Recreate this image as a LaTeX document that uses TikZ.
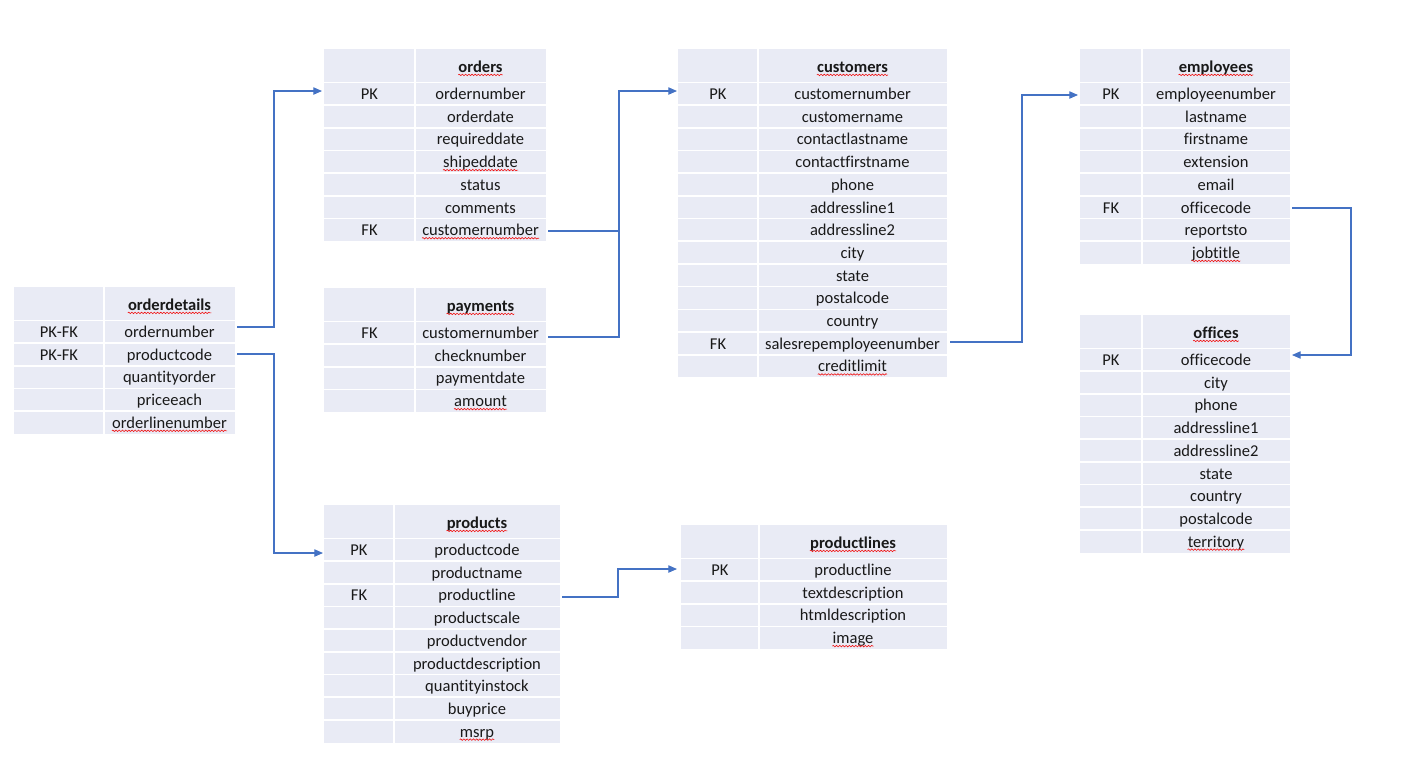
\documentclass[tikz,border=0pt]{standalone}
\usepackage{fontspec}
\setmainfont{Carlito}[Ligatures={NoCommon}]
\usetikzlibrary{decorations.pathmorphing,arrows.meta,calc}
\definecolor{cellfill}{HTML}{E9EBF5}
\definecolor{linkblue}{HTML}{4472C4}
\definecolor{squigred}{HTML}{F01010}
\tikzset{
  fld/.style={anchor=base,inner sep=0pt,font=\fontsize{12.4}{14.8}\selectfont,text=black!90},
  hdr/.style={fld,font=\fontsize{12.4}{14.8}\selectfont\bfseries},
  sepline/.style={white,line width=1.2pt},
  squig/.style={squigred,line width=0.45pt,decorate,decoration={snake,amplitude=0.55pt,segment length=2.4pt}},
  link/.style={linkblue,line width=0.8pt,-{Triangle[length=6.5pt,width=5.5pt]}},
  linkplain/.style={linkblue,line width=0.8pt}
}
% #1 name, #2 left x, #3 split x, #4 right x, #5 top y, #6 header text, #7 rows key/field/wavy
\newcommand{\erdtable}[7]{%
  \fill[cellfill] (#2,#5) rectangle (#4,#5+33.3);
  \draw[sepline] (#3,#5) -- (#3,#5+33.3);
  \node[hdr] (#1-h) at ({(#3+#4)/2},#5+23.3) {#6};
  \draw[squig] ($(#1-h.base west)+(0,2.6)$) -- ($(#1-h.base east)+(0,2.6)$);
  \foreach \k/\f/\w [count=\i] in {#7} {
    \pgfmathsetmacro{\yt}{#5+33.3+(\i-1)*22.7}
    \fill[cellfill] (#2,\yt) rectangle (#4,\yt+22.7);
    \draw[sepline] (#2,\yt) -- (#4,\yt);
    \draw[sepline] (#3,\yt) -- (#3,\yt+22.7);
    \node[fld] (#1-k\i) at ({(#2+#3)/2},\yt+17.2) {\k};
    \node[fld] (#1-f\i) at ({(#3+#4)/2},\yt+17.2) {\f};
    \ifnum\w=1
      \draw[squig] ($(#1-f\i.base west)+(0,2.5)$) -- ($(#1-f\i.base east)+(0,2.5)$);
    \fi
  }
}
\begin{document}
\begin{tikzpicture}[x=0.75pt,y=-0.75pt]
\useasboundingbox (0,0) rectangle (1413,783);

\erdtable{od}{14}{104}{235}{287}{orderdetails}{PK-FK/ordernumber/0,PK-FK/productcode/0,/quantityorder/0,/priceeach/0,/orderlinenumber/1}
\erdtable{ord}{324}{415}{546}{49}{orders}{PK/ordernumber/0,/orderdate/0,/requireddate/0,/shipeddate/1,/status/0,/comments/0,FK/customernumber/1}
\erdtable{pay}{324}{415}{546}{288}{payments}{FK/customernumber/0,/checknumber/0,/paymentdate/0,/amount/1}
\erdtable{prod}{324}{394}{560}{505}{products}{PK/productcode/0,/productname/0,FK/productline/0,/productscale/0,/productvendor/0,/productdescription/0,/quantityinstock/0,/buyprice/0,/msrp/1}
\erdtable{cust}{678}{758}{947}{49}{customers}{PK/customernumber/0,/customername/0,/contactlastname/0,/contactfirstname/0,/phone/0,/addressline1/0,/addressline2/0,/city/0,/state/0,/postalcode/0,/country/0,FK/salesrepemployeenumber/0,/creditlimit/1}
\erdtable{pl}{681}{759}{947}{525}{productlines}{PK/productline/0,/textdescription/0,/htmldescription/0,/image/1}
\erdtable{emp}{1080}{1142}{1290}{49}{employees}{PK/employeenumber/0,/lastname/0,/firstname/0,/extension/0,/email/0,FK/officecode/0,/reportsto/0,/jobtitle/1}
\erdtable{off}{1080}{1142}{1290}{315}{offices}{PK/officecode/0,/city/0,/phone/0,/addressline1/0,/addressline2/0,/state/0,/country/0,/postalcode/0,/territory/1}

% connector end points
\coordinate (odOrdOut) at (237,327);
\coordinate (ordIn) at (322,91);
\coordinate (odProdOut) at (237,354);
\coordinate (prodIn) at (323,553);
\coordinate (ordCustOut) at (548,231);
\coordinate (custIn) at (677,91);
\coordinate (payCustOut) at (548,337);
\coordinate (custJoin) at (619,231);
\coordinate (custEmpOut) at (950,342);
\coordinate (empIn) at (1078,95);
\coordinate (empOffOut) at (1292,208);
\coordinate (offIn) at (1292,355);
\coordinate (prodPlOut) at (562,597);
\coordinate (plIn) at (677,569);

\draw[link] (odOrdOut) -- ++(37,0) |- (ordIn);
\draw[link] (odProdOut) -- ++(37,0) |- (prodIn);
\draw[link] (ordCustOut) -- (custJoin) |- (custIn);
\draw[linkplain] (payCustOut) -| (custJoin);
\draw[link] (custEmpOut) -- ++(72,0) |- (empIn);
\draw[link] (empOffOut) -- ++(59,0) |- (offIn);
\draw[link] (prodPlOut) -- ++(56,0) |- (plIn);
\end{tikzpicture}
\end{document}
